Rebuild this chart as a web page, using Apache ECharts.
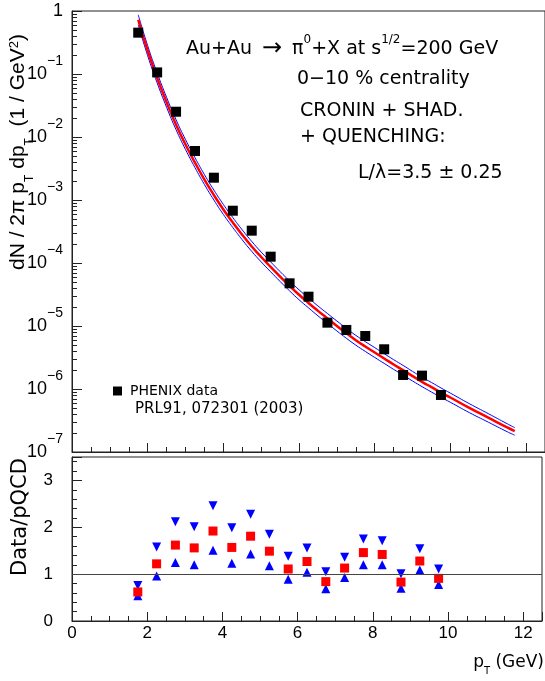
<!DOCTYPE html>
<html><head><meta charset="utf-8">
<script src="https://cdn.jsdelivr.net/npm/echarts@6/dist/echarts.min.js"></script>
<style>html,body{margin:0;padding:0;background:#fff}#c{width:545px;height:681px}</style>
</head><body><div id="c"></div>
<script>
// ---- data ----
const pt = [1.75, 2.25, 2.75, 3.25, 3.75, 4.25, 4.75, 5.25, 5.75, 6.25, 6.75, 7.25, 7.75, 8.25, 8.75, 9.25, 9.75];
const phenix = [0.453, 0.106, 0.0252, 6.0e-3, 2.26e-3, 6.76e-4, 3.26e-4, 1.26e-4, 4.76e-5, 2.92e-5, 1.13e-5, 8.65e-6, 6.94e-6, 4.27e-6, 1.67e-6, 1.63e-6, 8.04e-7];
const ratioCentral = [0.62, 1.22, 1.62, 1.56, 1.92, 1.57, 1.81, 1.49, 1.11, 1.27, 0.84, 1.13, 1.46, 1.42, 0.83, 1.28, 0.91];
const ratioHigh = [0.76, 1.58, 2.12, 2.01, 2.46, 1.99, 2.28, 1.85, 1.38, 1.56, 1.05, 1.36, 1.75, 1.71, 1.01, 1.54, 1.11];
const ratioLow = [0.54, 0.96, 1.25, 1.20, 1.51, 1.23, 1.43, 1.18, 0.89, 1.04, 0.69, 0.93, 1.20, 1.20, 0.70, 1.09, 0.78];

const curvePt = [1.75, 2.0, 2.25, 2.5, 2.75, 3.0, 3.25, 3.5, 3.75, 4.0, 4.25, 4.5, 4.75, 5.0, 5.25, 5.5, 5.75, 6.0, 6.25, 6.5, 6.75, 7.0, 7.25, 7.5, 7.75, 8.0, 8.25, 8.5, 8.75, 9.0, 9.25, 9.5, 9.75, 10.0, 10.5, 11.0, 11.5, 11.7];
const curveCentral = [0.726, 0.234, 0.0869, 0.0355, 0.01567, 7.59e-3, 3.92e-3, 2.11e-3, 1.197e-3, 7.08e-4, 4.39e-4, 2.79e-4, 1.83e-4, 1.245e-4, 8.69e-5, 6.10e-5, 4.33e-5, 3.13e-5, 2.32e-5, 1.74e-5, 1.318e-5, 1.0e-5, 7.66e-6, 5.96e-6, 4.73e-6, 3.80e-6, 3.05e-6, 2.45e-6, 1.99e-6, 1.60e-6, 1.30e-6, 1.07e-6, 8.81e-7, 7.33e-7, 5.01e-7, 3.51e-7, 2.45e-7, 2.14e-7];
const curveUpper = [0.87, 0.281, 0.1043, 0.0426, 0.0188, 9.1e-3, 4.70e-3, 2.53e-3, 1.436e-3, 8.5e-4, 5.27e-4, 3.35e-4, 2.20e-4, 1.49e-4, 1.04e-4, 7.3e-5, 5.2e-5, 3.75e-5, 2.78e-5, 2.08e-5, 1.58e-5, 1.20e-5, 9.2e-6, 7.1e-6, 5.65e-6, 4.54e-6, 3.64e-6, 2.92e-6, 2.37e-6, 1.90e-6, 1.54e-6, 1.27e-6, 1.04e-6, 8.6e-7, 5.85e-7, 4.07e-7, 2.81e-7, 2.44e-7];
const curveLower = [0.605, 0.195, 0.0724, 0.0296, 0.01306, 6.33e-3, 3.27e-3, 1.76e-3, 9.98e-4, 5.9e-4, 3.66e-4, 2.33e-4, 1.53e-4, 1.04e-4, 7.25e-5, 5.09e-5, 3.61e-5, 2.61e-5, 1.94e-5, 1.45e-5, 1.10e-5, 8.35e-6, 6.39e-6, 4.97e-6, 3.95e-6, 3.17e-6, 2.55e-6, 2.05e-6, 1.66e-6, 1.34e-6, 1.09e-6, 8.95e-7, 7.38e-7, 6.15e-7, 4.22e-7, 2.98e-7, 2.10e-7, 1.85e-7];

const xTickLabels = ['0', '2', '4', '6', '8', '10', '12'];
const ratioTickLabels = ['0', '1', '2', '3'];

// ---- helpers ----
const FONT = '"Liberation Sans", Arial, Helvetica, sans-serif';
const DV = '"DejaVu Sans", sans-serif';
const AX = '#222';
const zip = (xs, ys) => xs.map((x, i) => [x, ys[i]]);

function logLabel(v) {
  const e = Math.round(Math.log10(v));
  if (e === 0) return '{b|1}';
  return '{b|10}{s|\u2212' + (-e) + '}';
}

const chart = echarts.init(document.getElementById('c'), null, {renderer: 'canvas'});
const axisLineStyle = {lineStyle: {color: AX, width: 1}};
const txt = (x, y, text, size, extra) => Object.assign({type: 'text', x: x, y: y, style: {
  text: text, font: size + 'px ' + DV, fill: '#000',
  align: 'left', verticalAlign: 'middle', textAlign: 'left', textVerticalAlign: 'middle'}}, extra || {});

const option = {
  animation: false,
  backgroundColor: '#fff',
  textStyle: {fontFamily: FONT},
  grid: [
    {left: 72, top: 11, width: 475, height: 441, show: true, borderColor: AX, borderWidth: 1, backgroundColor: 'transparent'},
    {left: 72, top: 457, width: 475, height: 164, show: true, borderColor: AX, borderWidth: 1, backgroundColor: 'transparent'}
  ],
  legend: {
    data: [{name: 'PHENIX data', icon: 'rect'}],
    left: 113, top: 384, padding: 0, itemWidth: 9, itemHeight: 9, itemGap: 6,
    itemStyle: {opacity: 1},
    textStyle: {fontFamily: DV, fontSize: 14, color: '#000', padding: [0, 0, 0, 3]}
  },
  xAxis: [
    {gridIndex: 0, type: 'value', min: 0, max: 12.5, interval: 2,
      axisLine: axisLineStyle, axisLabel: {show: false},
      axisTick: {inside: true, length: 9, lineStyle: {color: AX}},
      splitLine: {show: false}},
    {gridIndex: 0, type: 'value', min: 0, max: 12.5, interval: 0.5, position: 'bottom',
      axisLine: {show: false}, axisLabel: {show: false},
      axisTick: {inside: true, length: 5, lineStyle: {color: AX}},
      splitLine: {show: false}},
    {gridIndex: 1, type: 'value', min: 0, max: 12.5, interval: 2,
      axisLine: axisLineStyle,
      axisLabel: {fontSize: 17, color: '#000', margin: 4, fontFamily: FONT,
        formatter: v => { const i = Math.round(v / 2); return (Math.abs(v - i * 2) < 1e-6 && xTickLabels[i] !== undefined) ? xTickLabels[i] : ''; }},
      axisTick: {inside: true, length: 9, lineStyle: {color: AX}},
      splitLine: {show: false}},
    {gridIndex: 1, type: 'value', min: 0, max: 12.5, interval: 0.5, position: 'bottom',
      axisLine: {show: false}, axisLabel: {show: false},
      axisTick: {inside: true, length: 5, lineStyle: {color: AX}},
      splitLine: {show: false}}
  ],
  yAxis: [
    {gridIndex: 0, type: 'log', logBase: 10, min: 1e-7, max: 1,
      axisLine: axisLineStyle,
      axisTick: {inside: true, length: 10, lineStyle: {color: AX}},
      minorTick: {show: true, splitNumber: 9, length: 5, lineStyle: {color: AX}},
      splitLine: {show: false},
      axisLabel: {margin: 9, formatter: logLabel, rich: {
        b: {fontSize: 18, fontFamily: FONT, color: '#000', lineHeight: 20, verticalAlign: 'middle'},
        s: {fontSize: 14, fontFamily: FONT, color: '#000', lineHeight: 14, padding: [0, 0, 26, 0], verticalAlign: 'middle'}
      }}},
    {gridIndex: 1, type: 'value', min: 0, max: 3.5, interval: 1,
      axisLine: axisLineStyle,
      axisTick: {inside: true, length: 10, lineStyle: {color: AX}},
      splitLine: {show: false},
      axisLabel: {fontSize: 17, color: '#000', margin: 19, fontFamily: FONT,
        formatter: v => { const i = Math.round(v); return (Math.abs(v - i) < 1e-6 && ratioTickLabels[i] !== undefined) ? ratioTickLabels[i] : ''; }}},
    {gridIndex: 1, type: 'value', min: 0, max: 3.5, interval: 0.2, position: 'left',
      axisLine: {show: false}, axisLabel: {show: false},
      axisTick: {inside: true, length: 5, lineStyle: {color: AX}},
      splitLine: {show: false}}
  ],
  series: [
    {name: 'pQCD lower', type: 'line', xAxisIndex: 0, yAxisIndex: 0, data: zip(curvePt, curveLower),
      showSymbol: false, smooth: true, lineStyle: {color: '#0000ff', width: 1}, z: 2},
    {name: 'pQCD upper', type: 'line', xAxisIndex: 0, yAxisIndex: 0, data: zip(curvePt, curveUpper),
      showSymbol: false, smooth: true, lineStyle: {color: '#0000ff', width: 1}, z: 2},
    {name: 'pQCD central', type: 'line', xAxisIndex: 0, yAxisIndex: 0, data: zip(curvePt, curveCentral),
      showSymbol: false, smooth: true, lineStyle: {color: '#ff0000', width: 2.5}, z: 3},
    {name: 'PHENIX data', type: 'scatter', xAxisIndex: 0, yAxisIndex: 0, data: zip(pt, phenix),
      symbol: 'rect', symbolSize: 10, itemStyle: {color: '#000', opacity: 1}, z: 4},
    {name: 'ratio high', type: 'scatter', xAxisIndex: 2, yAxisIndex: 1, data: zip(pt, ratioHigh),
      symbol: 'triangle', symbolRotate: 180, symbolSize: 9, itemStyle: {color: '#0000ff', opacity: 1}, z: 3},
    {name: 'ratio low', type: 'scatter', xAxisIndex: 2, yAxisIndex: 1, data: zip(pt, ratioLow),
      symbol: 'triangle', symbolSize: 9, itemStyle: {color: '#0000ff', opacity: 1}, z: 3},
    {name: 'ratio central', type: 'scatter', xAxisIndex: 2, yAxisIndex: 1, data: zip(pt, ratioCentral),
      symbol: 'rect', symbolSize: 9, itemStyle: {color: '#ff0000', opacity: 1}, z: 4,
      markLine: {silent: true, symbol: 'none', label: {show: false},
        lineStyle: {color: '#444', width: 1.2, type: 'solid'}, data: [{yAxis: 1}]}}
  ],
  graphic: [
    {type: 'text', x: 186, y: 49, style: {
      text: '{t|Au+Au}{a|\u2192}{t|\u03C0}{u|0}{t|+X at s}{u|1/2}{t|=200 GeV}',
      align: 'left', verticalAlign: 'middle', textAlign: 'left', textVerticalAlign: 'middle',
      rich: {
        t: {fontSize: 19, fontFamily: DV, color: '#000', lineHeight: 24, verticalAlign: 'middle'},
        a: {fontSize: 24, fontFamily: DV, color: '#000', lineHeight: 24, verticalAlign: 'middle', padding: [0, 10, 0, 10]},
        u: {fontSize: 12, fontFamily: DV, color: '#000', lineHeight: 12, padding: [0, 0, 18, 0], verticalAlign: 'middle'}
      }}},
    txt(297, 79, '0\u221210 % centrality', 19),
    txt(300, 111, 'CRONIN + SHAD.', 19),
    txt(300, 137, '+ QUENCHING:', 19),
    txt(358, 173, 'L/\u03BB=3.5 \u00B1 0.25', 19),
    txt(135, 409, 'PRL91, 072301 (2003)', 15),
    {type: 'text', x: 22, y: 152, rotation: Math.PI / 2, style: {
      text: '{t|dN / 2\u03C0 p}{d|T}{t| dp}{d|T}{t|  (1 / GeV}{u|2}{t|)}',
      align: 'center', verticalAlign: 'middle', textAlign: 'center', textVerticalAlign: 'middle',
      rich: {
        t: {fontSize: 21, fontFamily: FONT, color: '#000', lineHeight: 28, verticalAlign: 'top'},
        d: {fontSize: 12, fontFamily: FONT, color: '#000', lineHeight: 12, verticalAlign: 'bottom'},
        u: {fontSize: 13, fontFamily: FONT, color: '#000', lineHeight: 13, verticalAlign: 'top'}
      }}},
    {type: 'text', x: 21, y: 517, rotation: Math.PI / 2, style: {text: 'Data/pQCD', font: '21px ' + DV, fill: '#000', align: 'center', verticalAlign: 'middle', textAlign: 'center', textVerticalAlign: 'middle'}},
    {type: 'text', x: 544, y: 665, style: {
      text: '{t|p}{d|T}{t| (GeV)}',
      align: 'right', verticalAlign: 'middle', textAlign: 'right', textVerticalAlign: 'middle',
      rich: {
        t: {fontSize: 17, fontFamily: DV, color: '#000', lineHeight: 22, verticalAlign: 'top'},
        d: {fontSize: 10, fontFamily: DV, color: '#000', lineHeight: 10, verticalAlign: 'bottom'}
      }}}
  ]
};
chart.setOption(option);
</script>
</body></html>
